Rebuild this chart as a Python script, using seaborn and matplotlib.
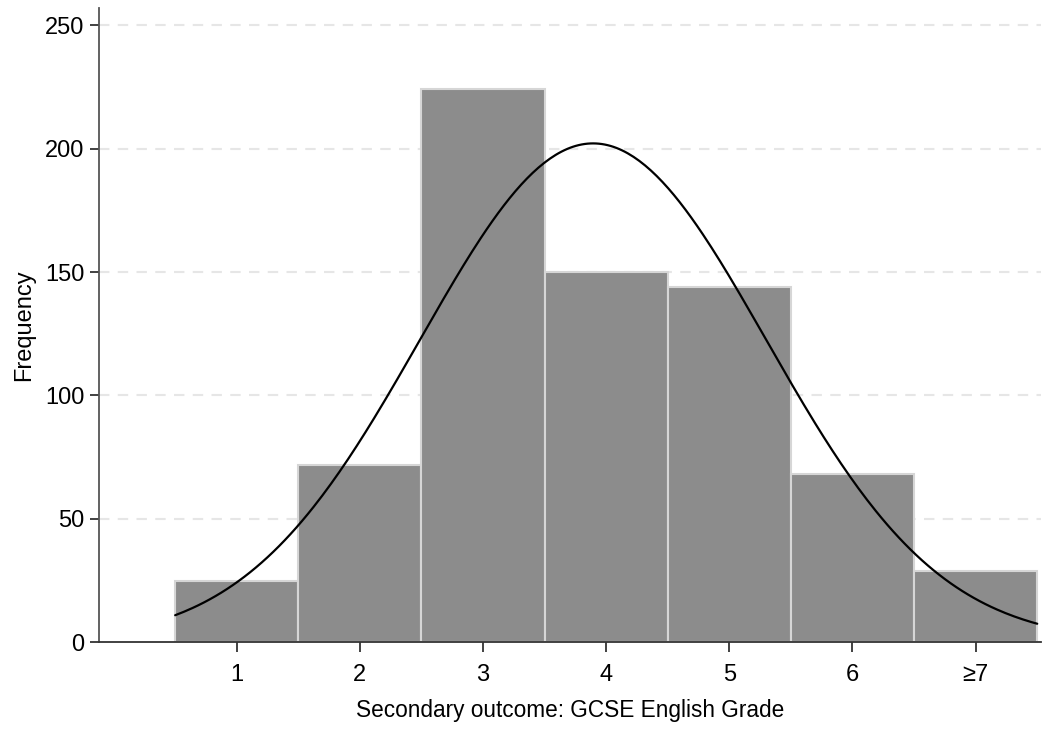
import numpy as np
import pandas as pd
import seaborn as sns
import matplotlib.pyplot as plt

# GCSE English grade counts (last bin is 7 and above)
grades = [1, 2, 3, 4, 5, 6, 7]
counts = [25, 72, 224, 150, 144, 68, 29]
tick_labels = ["1", "2", "3", "4", "5", "6", "\u22657"]
y_ticks = [0, 50, 100, 150, 200, 250]

sns.set_style("ticks")
plt.rcParams['font.family'] = ['Liberation Sans', 'DejaVu Sans']
plt.rcParams['text.color'] = 'black'
plt.rcParams['axes.labelcolor'] = 'black'
plt.rcParams['xtick.color'] = '#333333'
plt.rcParams['ytick.color'] = '#333333'
plt.rcParams['xtick.labelcolor'] = 'black'
plt.rcParams['ytick.labelcolor'] = 'black'

df = pd.DataFrame({"grade": grades, "count": counts})

# normal curve fitted to the grouped data, scaled to frequency (bin width 1)
n = df["count"].sum()
mu = (df["grade"] * df["count"]).sum() / n
sd = np.sqrt(((df["grade"] - mu) ** 2 * df["count"]).sum() / n)
xs = np.linspace(0.5, 7.5, 300)
curve = pd.DataFrame({"x": xs,
                      "y": n / (sd * np.sqrt(2 * np.pi)) * np.exp(-0.5 * ((xs - mu) / sd) ** 2)})

fig = plt.figure(figsize=(10.43, 7.29), dpi=100)
ax = fig.add_axes([0.095, 0.119, 0.903, 0.870])

for y in y_ticks[1:]:
    ax.axhline(y, color="#e6e6e6", lw=1.5, ls=(0, (5, 4)), zorder=0)

sns.histplot(data=df, x="grade", weights="count", binwidth=1, binrange=(0.5, 7.5),
             color="#8c8c8c", alpha=1, edgecolor="#d6d6d6", linewidth=1.5, ax=ax, zorder=2)
sns.lineplot(data=curve, x="x", y="y", color="black", lw=1.6, ax=ax, zorder=3)

ax.set_xlim(-0.118, 7.53)
ax.set_ylim(0, 257)
ax.set_xticks(grades)
ax.set_xticklabels(tick_labels)
ax.set_yticks(y_ticks)

sns.despine(ax=ax)
ax.spines["left"].set_color("#555555")
ax.spines["bottom"].set_color("#333333")
ax.spines["left"].set_linewidth(1.3)
ax.spines["bottom"].set_linewidth(1.3)

ax.tick_params(axis="y", labelsize=17, length=6.5, width=1.3, pad=4)
ax.tick_params(axis="x", labelsize=17, length=7, width=1.3, pad=9)
ax.set_xlabel("Secondary outcome: GCSE English Grade", fontsize=16.3, labelpad=9)
ax.set_ylabel("Frequency", fontsize=17, labelpad=7)

fig.savefig("out.png", dpi=100)
